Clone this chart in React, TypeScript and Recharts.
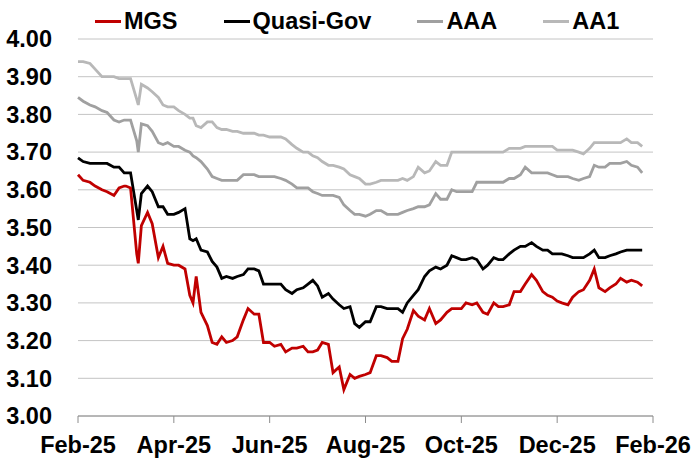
import { LineChart, Line, XAxis, YAxis, CartesianGrid } from "recharts";

// sample dates (yyyy-mm-dd)
const dates = [
  "2025-02-01", "2025-02-04", "2025-02-08", "2025-02-11", "2025-02-15", "2025-02-18", "2025-02-22", "2025-02-25", "2025-02-28",
  "2025-03-01", "2025-03-04", "2025-03-08", "2025-03-09", "2025-03-11", "2025-03-15", "2025-03-18", "2025-03-22", "2025-03-25", "2025-03-28",
  "2025-04-01", "2025-04-04", "2025-04-08", "2025-04-11", "2025-04-13", "2025-04-15", "2025-04-18", "2025-04-22", "2025-04-25", "2025-04-28",
  "2025-05-01", "2025-05-04", "2025-05-08", "2025-05-11", "2025-05-15", "2025-05-18", "2025-05-22", "2025-05-25", "2025-05-28",
  "2025-06-01", "2025-06-04", "2025-06-08", "2025-06-11", "2025-06-15", "2025-06-18", "2025-06-22", "2025-06-25", "2025-06-28",
  "2025-07-01", "2025-07-04", "2025-07-08", "2025-07-11", "2025-07-15", "2025-07-18", "2025-07-22", "2025-07-25", "2025-07-28",
  "2025-08-01", "2025-08-04", "2025-08-08", "2025-08-11", "2025-08-15", "2025-08-18", "2025-08-22", "2025-08-25", "2025-08-28",
  "2025-09-01", "2025-09-04", "2025-09-08", "2025-09-11", "2025-09-15", "2025-09-18", "2025-09-22", "2025-09-25", "2025-09-28",
  "2025-10-01", "2025-10-04", "2025-10-08", "2025-10-11", "2025-10-15", "2025-10-18", "2025-10-22", "2025-10-25", "2025-10-28",
  "2025-11-01", "2025-11-04", "2025-11-08", "2025-11-11", "2025-11-15", "2025-11-18", "2025-11-22", "2025-11-25", "2025-11-28",
  "2025-12-01", "2025-12-04", "2025-12-08", "2025-12-11", "2025-12-15", "2025-12-18", "2025-12-22", "2025-12-25", "2025-12-28",
  "2026-01-01", "2026-01-04", "2026-01-08", "2026-01-11", "2026-01-15", "2026-01-18", "2026-01-22", "2026-01-25",
];

const mgs = [
  3.64, 3.625, 3.62, 3.61, 3.6, 3.595, 3.585, 3.605, 3.61,
  3.61, 3.605, 3.43, 3.405, 3.505, 3.54, 3.51, 3.42, 3.45, 3.405,
  3.4, 3.4, 3.39, 3.32, 3.3, 3.37, 3.275, 3.24, 3.195, 3.19,
  3.21, 3.195, 3.2, 3.21, 3.255, 3.285, 3.27, 3.27, 3.195,
  3.195, 3.185, 3.19, 3.17, 3.18, 3.18, 3.185, 3.17, 3.17,
  3.175, 3.195, 3.19, 3.115, 3.13, 3.07, 3.11, 3.1, 3.105,
  3.11, 3.115, 3.16, 3.16, 3.155, 3.145, 3.145, 3.205, 3.23,
  3.28, 3.265, 3.255, 3.285, 3.245, 3.255, 3.275, 3.285, 3.285,
  3.285, 3.3, 3.295, 3.3, 3.275, 3.27, 3.3, 3.29, 3.29,
  3.295, 3.33, 3.33, 3.35, 3.375, 3.36, 3.33, 3.32, 3.315,
  3.305, 3.3, 3.295, 3.315, 3.33, 3.335, 3.36, 3.39, 3.34,
  3.33, 3.34, 3.35, 3.365, 3.355, 3.36, 3.355, 3.345,
];

const quasiGov = [
  3.685, 3.675, 3.67, 3.67, 3.67, 3.67, 3.66, 3.66, 3.645,
  3.645, 3.645, 3.545, 3.52, 3.59, 3.61, 3.595, 3.555, 3.555, 3.535,
  3.535, 3.54, 3.55, 3.47, 3.465, 3.47, 3.44, 3.435, 3.41, 3.395,
  3.365, 3.37, 3.365, 3.37, 3.375, 3.39, 3.39, 3.385, 3.35,
  3.35, 3.35, 3.35, 3.335, 3.325, 3.335, 3.34, 3.35, 3.36,
  3.345, 3.315, 3.325, 3.31, 3.295, 3.285, 3.29, 3.245, 3.235,
  3.25, 3.25, 3.29, 3.29, 3.285, 3.285, 3.285, 3.275, 3.3,
  3.32, 3.335, 3.37, 3.385, 3.395, 3.39, 3.4, 3.425, 3.42,
  3.415, 3.415, 3.42, 3.415, 3.39, 3.4, 3.42, 3.415, 3.415,
  3.43, 3.44, 3.45, 3.45, 3.46, 3.45, 3.44, 3.44, 3.43,
  3.43, 3.43, 3.425, 3.42, 3.42, 3.42, 3.43, 3.44, 3.42,
  3.42, 3.425, 3.43, 3.435, 3.44, 3.44, 3.44, 3.44,
];

const aaa = [
  3.845, 3.835, 3.825, 3.82, 3.81, 3.805, 3.785, 3.78, 3.785,
  3.785, 3.785, 3.73, 3.7, 3.775, 3.77, 3.755, 3.725, 3.72, 3.725,
  3.715, 3.715, 3.705, 3.7, 3.69, 3.685, 3.675, 3.655, 3.635, 3.63,
  3.625, 3.625, 3.625, 3.625, 3.64, 3.64, 3.64, 3.635, 3.635,
  3.635, 3.635, 3.63, 3.625, 3.615, 3.605, 3.605, 3.605, 3.595,
  3.59, 3.585, 3.585, 3.585, 3.58, 3.56, 3.545, 3.535, 3.535,
  3.53, 3.535, 3.545, 3.545, 3.535, 3.535, 3.535, 3.54, 3.545,
  3.55, 3.555, 3.555, 3.56, 3.59, 3.575, 3.575, 3.6, 3.595,
  3.595, 3.595, 3.595, 3.62, 3.62, 3.62, 3.62, 3.62, 3.62,
  3.63, 3.63, 3.64, 3.66, 3.645, 3.645, 3.645, 3.645, 3.64,
  3.635, 3.635, 3.635, 3.63, 3.625, 3.63, 3.635, 3.665, 3.66,
  3.66, 3.67, 3.67, 3.67, 3.675, 3.665, 3.66, 3.645,
];

const aa1 = [
  3.94, 3.94, 3.935, 3.92, 3.9, 3.9, 3.9, 3.895, 3.895,
  3.895, 3.895, 3.84, 3.825, 3.88, 3.87, 3.86, 3.845, 3.825, 3.82,
  3.82, 3.81, 3.8, 3.79, 3.79, 3.77, 3.765, 3.78, 3.78, 3.765,
  3.76, 3.76, 3.755, 3.755, 3.75, 3.75, 3.75, 3.745, 3.745,
  3.74, 3.74, 3.74, 3.735, 3.72, 3.71, 3.7, 3.7, 3.69,
  3.685, 3.675, 3.665, 3.665, 3.66, 3.655, 3.64, 3.635, 3.63,
  3.615, 3.615, 3.62, 3.625, 3.625, 3.625, 3.625, 3.63, 3.625,
  3.635, 3.66, 3.645, 3.65, 3.675, 3.665, 3.665, 3.7, 3.7,
  3.7, 3.7, 3.7, 3.7, 3.7, 3.7, 3.7, 3.7, 3.7,
  3.71, 3.71, 3.71, 3.715, 3.715, 3.715, 3.715, 3.715, 3.715,
  3.705, 3.705, 3.705, 3.705, 3.7, 3.695, 3.71, 3.725, 3.725,
  3.725, 3.725, 3.725, 3.725, 3.735, 3.725, 3.725, 3.715,
];

const tickLabels = ["Feb-25", "Apr-25", "Jun-25", "Aug-25", "Oct-25", "Dec-25", "Feb-26"];
const yTicks = [3.0, 3.1, 3.2, 3.3, 3.4, 3.5, 3.6, 3.7, 3.8, 3.9, 4.0];

const series = [
  { key: "mgs", name: "MGS", color: "#C00000", values: mgs },
  { key: "quasi", name: "Quasi-Gov", color: "#000000", values: quasiGov },
  { key: "aaa", name: "AAA", color: "#A0A0A0", values: aaa },
  { key: "aa1", name: "AA1", color: "#B8B8B8", values: aa1 },
];

const FONT = '"Liberation Sans", Arial, sans-serif';

// months since Feb-25, each month same width (like the excel axis)
const monthPos = (d: string) => {
  const [y, m, dd] = d.split("-").map(Number);
  const len = new Date(y, m, 0).getDate();
  return (y - 2025) * 12 + (m - 2) + (dd - 1) / len;
};

const data = dates.map((d, i) => {
  const row: Record<string, number | string> = { date: d, x: monthPos(d) };
  series.forEach((s) => (row[s.key] = s.values[i]));
  return row;
});

const tickStyle = { fill: "#000", fontSize: 23.5, fontWeight: 700, fontFamily: FONT };

export default function App() {
  return (
    <div style={{ position: "absolute", left: 0, top: 0, width: 693, height: 465, background: "#fff" }}>
      <div
        style={{
          position: "absolute",
          top: 8,
          left: 95,
          display: "flex",
          fontFamily: FONT,
          fontWeight: 700,
          fontSize: 23.5,
          lineHeight: "26px",
          color: "#000",
          whiteSpace: "nowrap",
        }}
      >
        {series.map((s) => (
          <div key={s.key} style={{ display: "flex", alignItems: "center", marginRight: 46 }}>
            <span style={{ display: "inline-block", width: 26, height: 3, background: s.color, marginRight: 3 }} />
            <span>{s.name}</span>
          </div>
        ))}
      </div>
      <LineChart width={693} height={465} data={data} margin={{ top: 39, right: 40, bottom: 19, left: 0 }}>
        <CartesianGrid vertical={false} stroke="#C4C4C4" strokeWidth={1} />
        <XAxis
          dataKey="x"
          type="number"
          domain={[0, 12]}
          ticks={tickLabels.map((_, i) => i * 2)}
          tickFormatter={(v: number) => tickLabels[Math.round(v / 2)]}
          tick={tickStyle}
          stroke="#8C8C8C"
          tickSize={7}
          tickMargin={13}
          height={30}
          interval={0}
        />
        <YAxis
          type="number"
          domain={[3, 4]}
          ticks={yTicks}
          tickFormatter={(v: number) => v.toFixed(2)}
          tick={tickStyle}
          axisLine={false}
          tickLine={false}
          tickSize={0}
          tickMargin={26}
          width={78}
          interval={0}
        />
        {series
          .slice()
          .reverse()
          .map((s) => (
            <Line
              key={s.key}
              dataKey={s.key}
              name={s.name}
              type="linear"
              stroke={s.color}
              strokeWidth={2.8}
              dot={false}
              isAnimationActive={false}
            />
          ))}
      </LineChart>
    </div>
  );
}
